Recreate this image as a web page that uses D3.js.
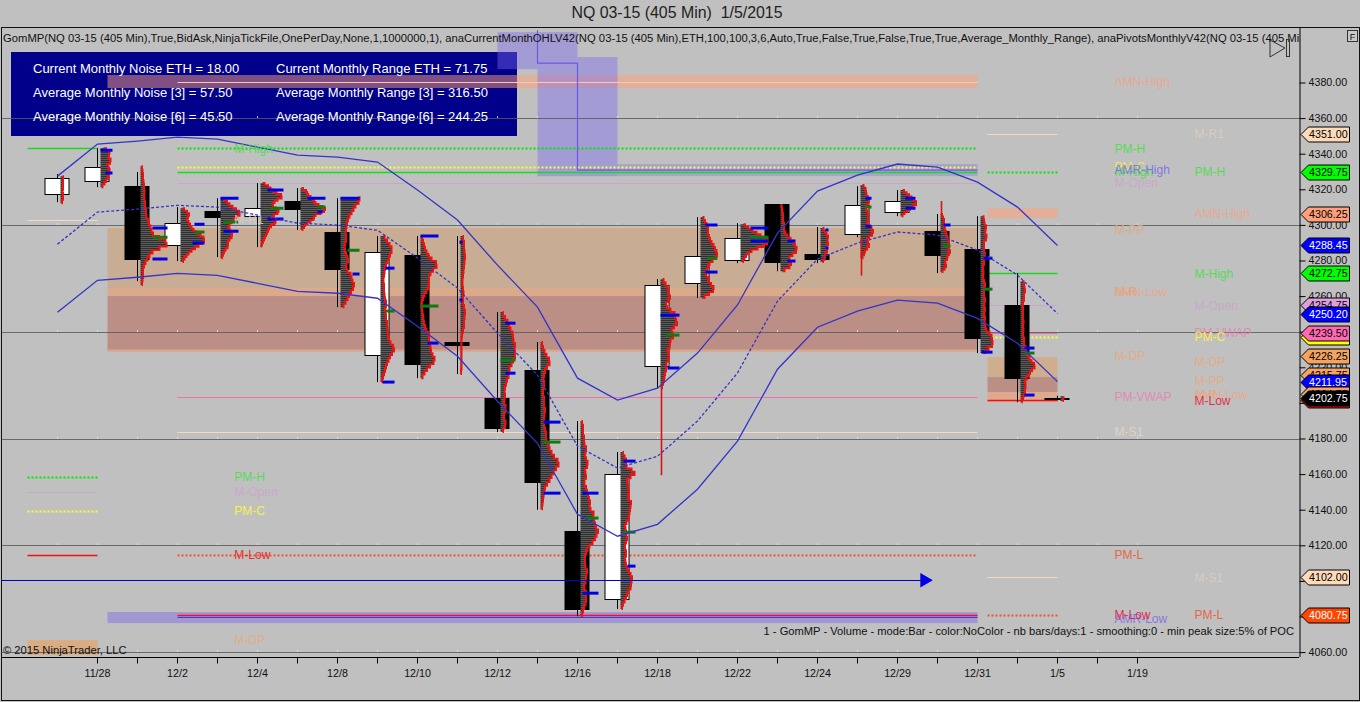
<!DOCTYPE html>
<html><head><meta charset="utf-8">
<script src="https://cdn.jsdelivr.net/npm/d3@7/dist/d3.min.js"></script>
<style>html,body{margin:0;padding:0;background:#c0c0c0;overflow:hidden}svg{display:block}text{font-family:"Liberation Sans",Arial,sans-serif}</style>
</head><body><svg id="c" width="1360" height="702"></svg>
<script>
const titleText="NQ 03-15 (405 Min)  1/5/2015";
const headerText="GomMP(NQ 03-15 (405 Min),True,BidAsk,NinjaTickFile,OnePerDay,None,1,1000000,1), anaCurrentMonthOHLV42(NQ 03-15 (405 Min),ETH,100,100,3,6,Auto,True,False,True,False,True,True,Average_Monthly_Range), anaPivotsMonthlyV42(NQ 03-15 (405 Min),";
const footerText="1 - GomMP - Volume - mode:Bar - color:NoColor - nb bars/days:1 - smoothing:0 - min peak size:5% of POC";
const copyrightText="\u00a9 2015 NinjaTrader, LLC";
const panelLeft=["Current Monthly Noise ETH = 18.00","Average Monthly Noise [3] = 57.50","Average Monthly Noise [6] = 45.50"];
const panelRight=["Current Monthly Range ETH = 71.75","Average Monthly Range [3] = 316.50","Average Monthly Range [6] = 244.25"];
const dateLabels=["","11/28","","12/2","","12/4","","12/8","","12/10","","12/12","","12/16","","12/18","","12/22","","12/24","","12/29","","12/31","","1/5","","1/19"];
const priceTicks=[4380,4360,4340,4320,4300,4280,4260,4240,4220,4200,4180,4160,4140,4120,4100,4080,4060];
const gridPrices=[4360,4300,4240,4180,4120,4060];

const opens =[4317.3,4324.6,4321.8,4288.7,4307.8,4304.9,4313.4,4296,4226.9,4283,4234.2,4202.7,4218.4,4128,4089.8,4220.7,4267.3,4280.2,4311.7,4283.6,4294.8,4307.2,4296.5,4286.4,4254.9,4202.9];
const highs =[4328.5,4343.1,4329.7,4310,4315,4323.5,4320.7,4315,4293.7,4293.7,4293.7,4251,4234.2,4189.8,4172.4,4269.6,4304.4,4301,4311.7,4298.8,4321.8,4319.6,4306.1,4304.9,4272.9,4204];
const lows  =[4312.8,4321.2,4268.4,4279.7,4281.9,4287.5,4297.1,4253.8,4211.7,4213.9,4216.2,4183.6,4140,4080.2,4084.2,4208.3,4258.9,4278.5,4274,4278.5,4293.1,4304.9,4272.9,4228,4200.4,4201.5];
const closes=[4326.3,4332.5,4280.8,4301,4304.4,4309.4,4308.9,4275.2,4284.7,4221.8,4232.5,4185.8,4155.5,4084.2,4160,4266.2,4282.5,4292.6,4279.1,4280.8,4311.1,4313.4,4283,4236.4,4213.9,4202.3];

const channelUpper=[4327.4,4345.4,4347.1,4349.3,4348.2,4343.7,4339.2,4338.1,4335.3,4319.6,4302.7,4277.4,4253.8,4213.9,4201.6,4208.3,4228,4255,4295.4,4319,4328,4334.2,4332.5,4324,4310,4288.45];
const channelMid=[4289.2,4307.2,4308.9,4311,4310,4305.5,4301,4299.9,4297,4281.4,4264.5,4239.2,4215.6,4175.7,4163.4,4170,4189.8,4216.8,4257.2,4280.8,4289.8,4296,4294.3,4285.8,4271.8,4250.2];
const channelLower=[4250.9,4268.9,4270.6,4272.8,4271.7,4267.2,4262.7,4261.6,4258.8,4243.1,4226.2,4200.9,4177.3,4137.4,4125.1,4131.8,4151.5,4178.5,4218.9,4242.5,4251.5,4257.7,4256,4247.5,4233.5,4211.95];

const profileTop=[4327.4,4343.1,4333,4309.4,4315,4323.5,4320.7,4315.6,4293.7,4293.7,4293.7,4251,4234.2,4189.8,4172.4,4269.6,4304.4,4300.4,4311.7,4298.2,4322.4,4319.6,4306.1,4304.9,4268.4,4203.8];
const profileBottom=[4312.2,4321.2,4266.2,4279.1,4281.3,4287.5,4297.1,4253.8,4211.7,4213.9,4216.2,4183.6,4140.3,4080.2,4084.2,4208.3,4258.9,4279.1,4274,4279.1,4281.3,4304.9,4273.5,4228,4200.4,4201];
const profiles=[
[2,3,2,3,2,2,3,2,1],
[3,8,10,7,9,11,8,6,10,8,7,9,6,5,3,1],
[1,2,2,3,2,4,3,4,4,3,5,4,5,6,5,7,9,8,12,10,15,22,28,24,14,10,8,6,4,3,2,3,2,2,1],
[2,5,8,9,6,7,9,10,12,14,18,22,24,23,20,16,13,9,7,5,3,2],
[2,5,8,10,14,17,20,18,14,12,10,8,8,10,11,12,10,8,7,8,6,4,3,2,1],
[2,6,9,11,14,18,23,19,15,13,11,14,17,19,15,12,10,14,16,12,9,8,7,6,5,4,3,2,1,1],
[1,4,7,6,9,11,13,14,16,20,24,25,22,18,12,15,11,9,5,4,3,1],
[18,20,16,14,12,10,8,7,6,6,5,5,6,5,4,4,5,6,8,7,5,6,8,12,10,14,13,12,9,8,6,4,2],
[3,5,8,10,12,10,9,8,6,5,4,4,3,3,3,4,3,4,4,5,6,5,4,6,5,6,7,6,8,7,8,9,11,14,13,10,9,7,6,5,4,3,2,1],
[1,2,3,4,5,7,9,13,18,14,11,9,8,9,8,7,5,3,2,1,1,2,2,3,3,4,5,7,9,8,9,10,10,11,13,15,11,8,5,3,1],
[2,3,4,3,5,4,4,3,3,2,2,2,3,3,2,3,4,5,3,4,3,2,1,1,1,1,1,1,1,1,0],
[2,3,6,8,9,11,13,12,14,15,13,16,13,12,10,8,9,7,6,5,4,4,5,3,4,6,4,3,4,6,3,2],
[1,2,3,5,7,10,8,5,4,3,3,4,3,2,3,4,3,4,5,3,4,3,4,5,6,5,7,8,10,12,15,19,17,14,12,10,8,5,4,3,3,2,2,1],
[1,2,3,2,3,4,3,5,6,4,5,6,8,5,4,6,5,3,5,6,7,8,9,10,8,12,14,11,16,13,18,17,15,14,10,8,6,5,4,5,4,6,7,5,6,4,3,5,6,5,6,4,3,2,1],
[2,3,5,6,5,7,15,13,7,6,8,7,9,8,7,10,11,9,10,8,9,7,5,4,6,5,7,6,5,4,5,6,5,4,6,5,8,9,11,12,10,11,9,7,6,5,3,2,1],
[2,4,6,8,7,9,10,6,5,8,12,16,13,18,15,12,10,14,11,9,10,8,6,9,8,7,5,6,5,4,4,3,2,1],
[2,4,5,7,8,7,8,9,10,12,14,15,17,16,14,10,8,7,6,5,7,8,9,12,14,11,6,2],
[3,6,10,14,18,22,26,28,25,20,14,8,6,5,3,2],
[1,1,2,2,3,2,3,4,3,4,6,8,12,14,15,17,14,10,8,9,12,6,2],
[2,4,5,7,8,6,8,7,5,7,6,4,5,3,2],
[2,4,6,5,7,8,9,7,5,6,8,7,9,6,7,10,12,13,10,7,6,9,8,5,4,3,1],
[2,5,7,10,12,14,17,14,11,8,5,3,1],
[1,2,3,4,3,3,5,4,7,5,9,7,9,8,7,9,10,6,8,5,4,6,5,3,1],
[2,4,3,5,6,4,5,7,4,3,4,3,4,5,3,4,3,2,3,3,2,3,4,5,3,4,3,4,5,3,4,5,3,4,5,3,6,4,8,10,12,11,13,10,6,3],
[2,4,3,5,4,3,4,3,2,2,3,2,3,2,3,3,2,3,3,2,3,4,3,4,6,5,7,8,10,12,15,13,10,9,7,5,4,6,4,5,4,3,2,1],
[3,3,2]];
const redTails=[[15,4208.3,4159.4],[20,4293,4271.5],[22,4306,4313.4]];

// [session, kind, price, volume from, volume to]
const vaMarkers=[
[1,"b",4342,3,15],[1,"b",4329.1,8,15],
[2,"b",4298.2,15,30],[2,"g",4293.1,15,30],[2,"b",4280.8,15,30],
[3,"b",4300.4,17,27],[3,"g",4296,17,27],[3,"b",4289.8,15,27],
[4,"b",4315,3,21],[4,"g",4301.6,6,21],[4,"b",4296.5,6,21],
[5,"b",4319.6,10,26],[5,"g",4309.4,13,26],[5,"b",4303.3,10,26],
[6,"b",4315,10,28],[6,"g",4310,20,28],[6,"b",4307.2,20,25],
[7,"b",4315,3,22],[7,"g",4285.8,10,22],[7,"b",4272.4,15,22],
[8,"b",4275.7,8,17],[8,"g",4251.6,8,17],[8,"b",4211.7,5,17],
[9,"b",4293.7,3,21],[9,"g",4254.4,3,21],[9,"b",4233.6,10,21],
[10,"b",4290.3,2,5],[10,"b",4257.8,2,5],
[11,"b",4244.8,8,18],[11,"g",4224,3,18],[11,"b",4216.7,8,18],
[12,"b",4189.2,6,23],[12,"g",4178,6,23],[12,"b",4149.3,6,23],
[13,"b",4149.3,5,21],[13,"g",4135.3,10,21],[13,"b",4093.1,5,21],
[14,"b",4167.3,6,18],[14,"g",4127.4,6,18],[14,"b",4108.3,10,18],
[15,"b",4249.3,3,22],[15,"g",4238.1,8,22],[15,"b",4219.6,10,22],
[16,"b",4299.9,8,20],[16,"g",4281.3,10,20],[16,"b",4273.5,8,20],
[17,"b",4298.2,13,31],[17,"g",4293.1,13,31],[17,"b",4290.9,13,31],
[18,"b",4290.9,10,18],[18,"b",4279.7,10,18],
[19,"b",4297.1,8,11],[19,"b",4287,8,11],
[20,"b",4315,8,14],[20,"g",4310,8,14],[20,"b",4299.3,8,14],
[21,"b",4315,8,18],[21,"b",4309.4,8,18],
[22,"b",4299.9,6,13],[22,"g",4288.1,6,13],
[23,"b",4281.3,6,15],[23,"g",4263.9,6,15],[23,"b",4228.5,4,15],
[24,"b",4230.8,7,17],[24,"g",4228,7,17],[24,"b",4204.4,7,17]];

// band: from session, to session, top price, bottom price, colour, opacity
const bands=[
[1.25,23,4384.2,4376.9,"#ffa07a",.5],
[1.25,23,4298.2,4264.5,"#c8ad94",1],
[1.25,23,4298.2,4297.2,"#d8aa85",1],
[1.25,23,4264.5,4260,"#dca98b",1],
[1.25,23,4260,4229.1,"#bb8e86",1],
[1.25,23,4230,4228.9,"#dba588",1],
[1.25,23,4082.5,4076.3,"#8c7de0",.6],
[11,13,4408.3,4387.5,"#7b68ee",.42],
[12,13,4387.5,4327.4,"#7b68ee",.42],
[13,14,4394.3,4327.4,"#7b68ee",.42],
[14,23,4334.2,4327.4,"#7b68ee",.32],
[23.25,25,4309.4,4303.8,"#ffa07a",.55],
[23.25,25,4225.7,4214.5,"#cfae90",1],
[23.25,25,4214.5,4206,"#bb8e86",1],
[23.25,25,4206,4200.4,"#e0a98c",1],
[-0.75,1,4066.7,4058.3,"#e0a673",.8]];

// level: from session, to session, price, colour, dotted flag, width
const levels=[
[-0.75,1,4343.1,"#1ed81e",0,1.5],[-0.75,1,4302.7,"#f0dcc8",0,1],[-0.75,1,4158.3,"#00e800",1,2],[-0.75,1,4149.9,"#c9a6cc",0,1],[-0.75,1,4139.2,"#ffff33",1,2],[-0.75,1,4114.5,"#ee1111",0,1.5],
[3,23,4343.1,"#00e800",1,2],[3,23,4332.5,"#ffff33",1,2],[3,23,4329.7,"#1ed81e",0,1.5],[3,23,4323.5,"#c7a8cc",0,1],[3,23,4203.3,"#f070a8",0,1.2],[3,23,4183.6,"#f5dcc0",0,1.2],[3,23,4114.5,"#f0552a",1,2],[3,23,4080,"#3b3bd8",0,1],[3,23,4080.9,"#ee1133",0,1.5],[3,23,4380.2,"#ffc8a8",0,1],
[23.25,25,4351,"#f5dcc0",0,1.2],[23.25,25,4329.75,"#00e800",1,2],[23.25,25,4272.75,"#1ed81e",0,1.5],[23.25,25,4254.75,"#c7a8cc",0,1],[23.25,25,4239.5,"#f070a8",0,1.2],[23.25,25,4237,"#ffff33",1,2],[23.25,25,4201.5,"#e81020",0,1.5],[23.25,25,4102,"#f5dcc0",0,1.2],[23.25,25,4080.75,"#f0552a",1,2]];
const stepSessions=[12,12,13,13,23];
const stepPrices=[4409.4,4390.9,4390.9,4330.8,4330.8];
const arrowSessions=[-1.4,21.6];
const arrowPrice=4100.4;

const labelNames=["AMN-High","M-R1","PM-H","PM-C","M-High","AMR-High","PM-H","M-Open","AMN-High","M-PP","M-High","AMN-Low","M-R","M-Open","PM-VWAP","PM-C","M-DP","M-DP","M-PP","AMN-Low","M-R","M-Low","PM-VWAP","M-S1","PM-L","M-S1","AMR-Low","M-Low","PM-L","M-High","M-R1","PM-H","M-Open","PM-C","M-Low","M-DP"];
const labelSessions=[26.425,28.425,26.425,26.425,26.425,26.425,28.425,26.425,28.425,26.425,28.425,26.425,26.425,28.425,28.425,28.425,26.425,28.425,28.425,28.425,28.425,28.425,26.425,26.425,26.425,28.425,26.425,26.425,28.425,4.42,4.42,4.42,4.42,4.42,4.42,4.42];
const labelPrices=[4380.2,4351,4343.1,4332.5,4329.7,4330.8,4329.75,4323.5,4306.25,4297.5,4272.75,4262.7,4262.7,4254.75,4239.5,4237,4226.25,4223,4212.4,4204.5,4204.5,4201.5,4203.3,4183.6,4114.5,4102,4079,4080.8,4080.75,4343.1,4302.7,4158.3,4149.9,4139.2,4114.5,4066.7];
const labelColors=["#f0a488","#dfcfc0","#3fe03f","#f0f040","#3fe03f","#7b68ee","#3fe03f","#c9a6cc","#f0a488","#e0a878","#3fe03f","#f0a488","#e8a070","#c9a6cc","#e880b0","#ffff33","#e8aa78","#e8aa78","#e8aa78","#f0a488","#e8aa78","#e81030","#e880b0","#e8d8c4","#f0552a","#dfcfc0","#7b68ee","#e81030","#f0552a","#3fe03f","#dfcfc0","#3fe03f","#c9a6cc","#ffff33","#ee1111","#e8aa78"];

const tagValues=[4351,4329.75,4306.25,4288.45,4272.75,4254.75,4250.2,4237,4239.5,4226.25,4215.75,4211.95,4204.75,4201.5,4202.75,4102,4080.75];
const tagFills=["#ffdab9","#00ff00","#ffa07a","#0000ff","#00ff00","#dda0dd","#0000ff","#ffff00","#ff69b4","#f4a460","#f4a460","#0000ff","#f4a460","#e01010","#000000","#ffdab9","#ff4500"];
const tagInks=["#000","#000","#000","#fff","#000","#000","#fff","#000","#000","#000","#000","#fff","#000","#000","#fff","#000","#fff"];

const svg=d3.select("#c");
const x=d3.scaleLinear().domain([0,27]).range([57.5,1137.5]);
const y=d3.scaleLinear().domain([4380,4060]).range([82.5,652.1]);
const vol=d3.scaleLinear().domain([0,40]).range([0,40]);
const axisX=1299.5, plotLeft=1.5, plotTop=27.5;

const defs=svg.append("defs");
const pat=defs.append("pattern").attr("id","stripe").attr("width",4).attr("height",2).attr("patternUnits","userSpaceOnUse");
pat.append("rect").attr("width",4).attr("height",1).attr("fill","#303030");
pat.append("rect").attr("y",1).attr("width",4).attr("height",1).attr("fill","#5c5c5c");
defs.append("clipPath").attr("id","plot").append("rect").attr("x",plotLeft).attr("y",plotTop).attr("width",axisX-plotLeft).attr("height",657-plotTop);

// chrome
svg.append("rect").attr("width",1360).attr("height",702).attr("fill","#c0c0c0");
svg.append("text").attr("x",677).attr("y",18).attr("text-anchor","middle").attr("font-size",15.9).attr("fill","#222").style("white-space","pre").text(titleText);
svg.append("rect").attr("x",plotLeft).attr("y",plotTop).attr("width",1358).attr("height",673).attr("fill","none").attr("stroke","#111");

// info panel sits under the bands
const plot=svg.append("g").attr("clip-path","url(#plot)");
plot.append("rect").attr("x",11).attr("y",52).attr("width",506).attr("height",84).attr("fill","#00008b");

plot.selectAll("rect.band").data(bands).join("rect").attr("class","band")
 .attr("x",d=>x(d[0])).attr("width",d=>x(d[1])-x(d[0])).attr("y",d=>y(d[2])).attr("height",d=>y(d[3])-y(d[2]))
 .attr("fill",d=>d[4]).attr("opacity",d=>d[5]);

// grid
plot.selectAll("line.grid").data(gridPrices).join("line").attr("class","grid")
 .attr("x1",plotLeft).attr("x2",axisX).attr("y1",d=>Math.round(y(d))+.5).attr("y2",d=>Math.round(y(d))+.5)
 .attr("stroke","#5a5a5a").attr("stroke-opacity",.85);
const tickIdx=d3.range(0,dateLabels.length);
gridPrices.forEach(p=>{
 plot.selectAll(null).data(tickIdx).join("line").attr("x1",d=>x(d)).attr("x2",d=>x(d))
  .attr("y1",Math.round(y(p))-2).attr("y2",Math.round(y(p))).attr("stroke","#e4e4e4").attr("stroke-opacity",.8);
});

// levels
plot.selectAll("line.level").data(levels).join("line").attr("class","level")
 .attr("x1",d=>x(d[0])).attr("x2",d=>x(d[1])).attr("y1",d=>Math.round(y(d[2]))+.5).attr("y2",d=>Math.round(y(d[2]))+.5)
 .attr("stroke",d=>d[3]).attr("stroke-width",d=>d[5]).attr("stroke-dasharray",d=>d[4]?"2 2":null);
const stepLine=d3.line().x(d=>x(d[0])).y(d=>y(d[1]));
plot.append("path").datum(stepSessions.map((s,i)=>[s,stepPrices[i]])).attr("d",stepLine).attr("fill","none").attr("stroke","#6a5ae6").attr("stroke-width",1.2);

// candles
const cw=12.5;
plot.selectAll("line.wick").data(opens).join("line").attr("class","wick")
 .attr("x1",(d,i)=>x(i)).attr("x2",(d,i)=>x(i)).attr("y1",(d,i)=>y(highs[i])).attr("y2",(d,i)=>y(lows[i])).attr("stroke","#000").attr("stroke-width",1);
plot.selectAll("rect.body").data(opens).join("rect").attr("class","body")
 .attr("x",(d,i)=>x(i)-cw).attr("width",cw*2-1)
 .attr("y",(d,i)=>Math.round(y(Math.max(d,closes[i])))+.5)
 .attr("height",(d,i)=>Math.max(1,Math.round(Math.abs(y(d)-y(closes[i])))))
 .attr("fill",(d,i)=>closes[i]>d?"#fff":"#000").attr("stroke","#000");

// volume profiles
profiles.forEach((vals,i)=>{
 const py=d3.scaleLinear().domain([0,vals.length-1]).range([y(profileTop[i]),y(profileBottom[i])]);
 const base=x(i)+3;
 const g=plot.append("g");
 g.append("path").datum(vals).attr("fill","url(#stripe)")
  .attr("d",d3.area().curve(d3.curveStep).y((d,k)=>py(k)).x0(base).x1(d=>base+vol(d)));
 g.append("path").datum(vals).attr("fill","none").attr("stroke","#f01010").attr("stroke-width",2)
  .attr("d",d3.line().curve(d3.curveStep).y((d,k)=>py(k)).x(d=>base+vol(d)));
});
plot.selectAll("line.tail").data(redTails).join("line").attr("class","tail")
 .attr("x1",d=>x(d[0])+4).attr("x2",d=>x(d[0])+4).attr("y1",d=>y(d[1])).attr("y2",d=>y(d[2])).attr("stroke","#dd1111").attr("stroke-width",1.6);
plot.selectAll("line.va").data(vaMarkers).join("line").attr("class","va")
 .attr("x1",d=>x(d[0])+3+vol(d[3]-3)).attr("x2",d=>x(d[0])+vol(d[4])).attr("y1",d=>y(d[2])).attr("y2",d=>y(d[2]))
 .attr("stroke",d=>d[1]==="b"?"#0000e6":"#0f7a0f").attr("stroke-width",3);

// channel
[[channelUpper,null],[channelMid,"3 2"],[channelLower,null]].forEach(([vals,dash])=>{
 plot.append("path").datum(vals).attr("fill","none").attr("stroke","#3434c8").attr("stroke-width",1.3).attr("stroke-dasharray",dash)
  .attr("d",d3.line().x((d,i)=>x(i)).y(d=>y(d)));
});

// arrow
plot.append("line").attr("x1",x(arrowSessions[0])).attr("x2",x(arrowSessions[1])).attr("y1",Math.round(y(arrowPrice))+.5).attr("y2",Math.round(y(arrowPrice))+.5).attr("stroke","#0000d0").attr("stroke-width",1.2);
plot.append("path").attr("d",d3.symbol(d3.symbolTriangle,90)).attr("fill","#0000e6")
 .attr("transform",`translate(${x(arrowSessions[1])+3},${y(arrowPrice)}) rotate(90)`);

// labels
plot.selectAll("text.lab").data(labelNames).join("text").attr("class","lab")
 .attr("x",(d,i)=>x(labelSessions[i])).attr("y",(d,i)=>y(labelPrices[i])).attr("dy",".36em").attr("font-size",12)
 .attr("fill",(d,i)=>labelColors[i]).attr("opacity",.82).text(d=>d);

// panel text
[panelLeft,panelRight].forEach((col,c)=>{
 plot.selectAll(null).data(col).join("text").attr("x",c?276:33).attr("y",(d,i)=>73+24*i).attr("font-size",13).attr("fill","#fff").text(d=>d);
});
// header / footer
plot.append("text").attr("x",3).attr("y",42).attr("font-size",11.25).attr("fill","#111").text(headerText);
plot.append("text").attr("x",1294).attr("y",635).attr("text-anchor","end").attr("font-size",11.15).attr("fill","#111").text(footerText);
plot.append("text").attr("x",3).attr("y",654).attr("font-size",11.2).attr("fill","#111").text(copyrightText);

// play icon
svg.append("path").attr("d","M1270 40 L1285 48 L1270 57 Z").attr("fill","none").attr("stroke","#333");
svg.append("rect").attr("x",1286.5).attr("y",39.5).attr("width",3).attr("height",17).attr("fill","none").attr("stroke","#333");
// F box
svg.append("rect").attr("x",1347.5).attr("y",30.5).attr("width",10).attr("height",11).attr("fill","#c8c8c8").attr("stroke","#333");
svg.append("text").attr("x",1352.5).attr("y",39.5).attr("text-anchor","middle").attr("font-size",9).attr("fill","#111").text("F");

// axes
const axY=d3.axisRight(y).tickValues(priceTicks).tickFormat(d3.format(".2f")).tickSize(6).tickPadding(3);
const gy=svg.append("g").attr("transform",`translate(${axisX},0)`).call(axY);
gy.selectAll("text").attr("font-size",10.7).attr("font-family",'"Liberation Sans",Arial,sans-serif').attr("fill","#111");
gy.select(".domain").attr("d",`M0.5,${plotTop}V657`).attr("stroke","#000");
gy.selectAll("line").attr("stroke","#000");

const axX=d3.axisBottom(x).tickValues(d3.range(1,dateLabels.length)).tickFormat(i=>dateLabels[i]).tickSize(6).tickPadding(6);
const gx=svg.append("g").attr("transform","translate(-0.5,657.5)").call(axX);
gx.selectAll("text").attr("font-size",10.7).attr("font-family",'"Liberation Sans",Arial,sans-serif').attr("fill","#111");
gx.select(".domain").attr("d",`M${plotLeft},0H${axisX}`).attr("stroke","#000");
gx.selectAll("line").attr("stroke","#000");

// price tags
const tags=svg.append("g");
tagValues.forEach((v,i)=>{
 const t=Math.round(y(v))+.5;
 tags.append("path").attr("d",`M1301,${t} L1308.5,${t-7.5} H1349.5 V${t+7.5} H1308.5 Z`).attr("fill",tagFills[i]).attr("stroke","#000");
 tags.append("text").attr("x",1309).attr("y",t).attr("dy",".36em").attr("font-size",10.7).attr("fill",tagInks[i]).text(d3.format(".2f")(v));
});
</script></body></html>
